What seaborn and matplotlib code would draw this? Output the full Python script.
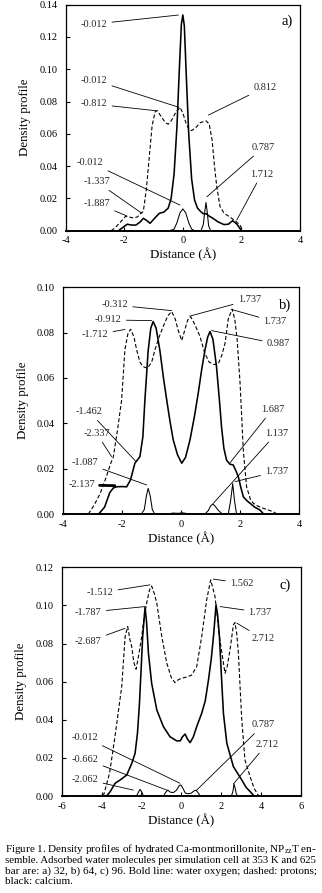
import matplotlib
matplotlib.use("Agg")
import matplotlib.pyplot as plt
import seaborn as sns
import pandas as pd

sns.set_theme(style="white")
plt.rcParams['font.family'] = ['Liberation Serif', 'DejaVu Serif']
plt.rcParams['mathtext.fontset'] = 'custom'
plt.rcParams['mathtext.rm'] = 'Liberation Serif'
plt.rcParams['mathtext.it'] = 'Liberation Serif'

# ---------------- data: panel a (32 molecules) ----------------
a_oxy_x = [-2.2, -2.05, -1.9, -1.75, -1.6, -1.45, -1.35, -1.25, -1.12, -0.95, -0.8, -0.65, -0.5, -0.4, -0.3,
           -0.2, -0.12, -0.05, 0.0, 0.05, 0.12, 0.2, 0.3, 0.4, 0.5, 0.6, 0.7, 0.8, 0.9, 1.0, 1.2, 1.4, 1.55,
           1.7, 1.85, 2.0]
a_oxy_y = [0.0, 0.002, 0.004, 0.0035, 0.0035, 0.0055, 0.0077, 0.0065, 0.0046, 0.008, 0.0108, 0.0115, 0.014,
           0.02, 0.035, 0.065, 0.1, 0.128, 0.1336, 0.127, 0.095, 0.06, 0.032, 0.019, 0.014, 0.012, 0.0105,
           0.0105, 0.009, 0.008, 0.0055, 0.0038, 0.004, 0.0062, 0.004, 0.0]
a_pro_x = [-2.45, -2.3, -2.1, -1.95, -1.85, -1.7, -1.55, -1.45, -1.35, -1.25, -1.15, -1.05, -0.95, -0.88,
           -0.75, -0.6, -0.5, -0.4, -0.25, -0.1, 0.0, 0.1, 0.2, 0.3, 0.45, 0.6, 0.8, 0.9, 1.0, 1.08, 1.16,
           1.27, 1.4, 1.6, 1.8, 1.95, 2.05]
a_pro_y = [0.0, 0.002, 0.006, 0.009, 0.0085, 0.008, 0.0085, 0.0105, 0.012, 0.025, 0.045, 0.065, 0.0735,
           0.0745, 0.071, 0.067, 0.066, 0.068, 0.073, 0.0764, 0.073, 0.067, 0.063, 0.062, 0.064, 0.067,
           0.068, 0.066, 0.056, 0.04, 0.027, 0.015, 0.011, 0.0085, 0.006, 0.0035, 0.0]
a_ca_x = [-0.45, -0.3, -0.2, -0.1, 0.0, 0.1, 0.2, 0.3, 0.4, 0.62, 0.7, 0.75, 0.79, 0.83, 0.88, 0.95]
a_ca_y = [0.0, 0.001, 0.005, 0.011, 0.0135, 0.011, 0.005, 0.001, 0.0, 0.0, 0.004, 0.012, 0.0175, 0.012,
          0.003, 0.0]

# ---------------- data: panel b (64 molecules) ----------------
b_oxy_x = [-2.8, -2.6, -2.42, -2.3, -2.19, -2.02, -1.85, -1.72, -1.57, -1.4, -1.3, -1.23, -1.12, -1.03,
           -0.95, -0.85, -0.72, -0.6, -0.49, -0.38, -0.27, -0.12, 0.02, 0.15, 0.3, 0.45, 0.58, 0.7, 0.81,
           0.9, 0.98, 1.08, 1.2, 1.3, 1.37, 1.45, 1.54, 1.65, 1.77, 1.86, 1.94, 2.02, 2.11, 2.22, 2.34,
           2.5, 2.67, 2.8]
b_oxy_y = [0.0, 0.003, 0.0095, 0.0115, 0.012, 0.0121, 0.012, 0.015, 0.0224, 0.0253, 0.034, 0.0503, 0.072,
           0.082, 0.0849, 0.082, 0.072, 0.06, 0.0503, 0.041, 0.0327, 0.026, 0.0224, 0.025, 0.0327, 0.043,
           0.0533, 0.064, 0.0724, 0.078, 0.0805, 0.077, 0.065, 0.05, 0.0385, 0.029, 0.0238, 0.022, 0.0216,
           0.019, 0.0165, 0.012, 0.0076, 0.006, 0.0047, 0.003, 0.0018, 0.0]
b_pro_x = [-3.15, -2.95, -2.75, -2.55, -2.4, -2.3, -2.15, -2.02, -1.91, -1.8, -1.71, -1.6, -1.51, -1.4,
           -1.29, -1.15, -1.0, -0.89, -0.75, -0.61, -0.45, -0.32, -0.2, -0.1, 0.02, 0.12, 0.22, 0.32, 0.45,
           0.64, 0.8, 0.95, 1.1, 1.25, 1.38, 1.49, 1.6, 1.73, 1.82, 1.9, 2.0, 2.11, 2.22, 2.35, 2.45, 2.6,
           2.79, 2.95, 3.13, 3.25]
b_pro_y = [0.0, 0.004, 0.009, 0.016, 0.022, 0.0253, 0.038, 0.0503, 0.0724, 0.08, 0.0815, 0.078, 0.0724,
           0.067, 0.065, 0.0643, 0.067, 0.0724, 0.078, 0.0827, 0.0875, 0.0893, 0.086, 0.081, 0.0765, 0.081,
           0.0855, 0.0871, 0.084, 0.0783, 0.071, 0.067, 0.066, 0.066, 0.07, 0.0754, 0.086, 0.0904, 0.086,
           0.077, 0.0577, 0.028, 0.012, 0.0065, 0.0047, 0.0035, 0.0025, 0.0018, 0.001, 0.0]
b_ca_x = [-1.35, -1.25, -1.18, -1.12, -1.05, -0.98, -0.9, -0.4, -0.3, -0.1, 0.05, 0.2, 0.4, 0.81, 0.92,
          1.0, 1.07, 1.15, 1.25, 1.35, 1.43, 1.6, 1.68, 1.75, 1.81, 1.88]
b_ca_y = [0.0, 0.002, 0.008, 0.0113, 0.008, 0.002, 0.0, 0.0, 0.0004, 0.0003, 0.0005, 0.0002, 0.0, 0.0,
          0.0015, 0.0035, 0.0044, 0.0035, 0.0018, 0.0005, 0.0, 0.0, 0.006, 0.0134, 0.006, 0.0]

# ---------------- data: panel c (96 molecules) ----------------
c_oxy_x = [-3.75, -3.58, -3.32, -3.07, -2.74, -2.49, -2.32, -2.2, -2.1, -1.94, -1.82, -1.75, -1.65, -1.49,
           -1.23, -0.9, -0.57, -0.23, -0.05, 0.05, 0.19, 0.3, 0.44, 0.6, 0.77, 1.02, 1.2, 1.36, 1.5, 1.61,
           1.74, 1.82, 1.91, 2.0, 2.11, 2.28, 2.61, 3.03, 3.25, 3.45, 3.65]
c_oxy_y = [0.0, 0.0021, 0.0067, 0.0084, 0.011, 0.017, 0.0224, 0.033, 0.0487, 0.0836, 0.099, 0.092, 0.0749,
           0.0592, 0.0451, 0.0364, 0.0311, 0.0289, 0.029, 0.031, 0.0325, 0.03, 0.028, 0.031, 0.0364, 0.0434,
           0.05, 0.0609, 0.072, 0.0836, 0.1003, 0.095, 0.0836, 0.065, 0.0434, 0.0277, 0.0154, 0.0084,
           0.0045, 0.0023, 0.0]
c_pro_x = [-3.91, -3.6, -3.33, -3.15, -2.99, -2.82, -2.69, -2.58, -2.49, -2.38, -2.27, -2.12, -1.99, -1.85,
           -1.74, -1.6, -1.49, -1.35, -1.23, -0.98, -0.73, -0.5, -0.32, -0.15, 0.02, 0.3, 0.52, 0.77, 1.02,
           1.27, 1.47, 1.69, 1.91, 2.11, 2.19, 2.3, 2.44, 2.61, 2.69, 2.78, 2.86, 3.03, 3.19, 3.45, 3.65,
           3.85, 3.95]
c_pro_y = [0.0, 0.012, 0.031, 0.045, 0.0574, 0.0836, 0.0889, 0.082, 0.0784, 0.07, 0.0665, 0.075, 0.0836,
           0.095, 0.1011, 0.108, 0.1102, 0.106, 0.1011, 0.0836, 0.0697, 0.062, 0.0595, 0.061, 0.0618, 0.0625,
           0.0635, 0.0679, 0.0836, 0.1029, 0.1134, 0.1046, 0.0836, 0.0697, 0.0644, 0.068, 0.0766, 0.0898,
           0.091, 0.085, 0.0749, 0.0399, 0.0189, 0.0101, 0.004, 0.0005, 0.0]
c_ca_x = [-2.25, -2.15, -2.07, -1.98, -1.9, -0.9, -0.78, -0.68, -0.55, -0.4, -0.25, -0.1, -0.02, 0.08, 0.2,
          0.35, 0.5, 0.65, 0.75, 0.85, 0.95, 2.5, 2.58, 2.64, 2.7, 2.76, 2.82]
c_ca_y = [0.0, 0.002, 0.0035, 0.002, 0.0, 0.0, 0.002, 0.0031, 0.002, 0.0018, 0.003, 0.0055, 0.0058, 0.004,
          0.0015, 0.0012, 0.0015, 0.0028, 0.003, 0.0015, 0.0, 0.0, 0.002, 0.0063, 0.004, 0.001, 0.0]

# ---------------- peak labels: (text, target x, target y, text x, text y) ----------------
a_labels = [("-0.012", -0.15, 0.1336, -3.03, 0.128),
            ("-0.012", -0.13, 0.0764, -3.03, 0.0933),
            ("-0.812", -0.91, 0.0743, -3.03, 0.0785),
            ("0.812", 0.87, 0.0716, 2.8, 0.0888),
            ("0.787", 0.82, 0.021, 2.75, 0.0516),
            ("-0.012", -0.1, 0.0159, -3.16, 0.0423),
            ("-1.337", -1.4, 0.0108, -2.94, 0.0303),
            ("-1.887", -1.91, 0.0091, -2.94, 0.017),
            ("1.712", 1.84, 0.0066, 2.69, 0.0351)]
b_labels = [("-0.312", -0.32, 0.0897, -2.25, 0.0922),
            ("1.737", 0.3, 0.0873, 2.31, 0.0944),
            ("-0.912", -1.0, 0.0853, -2.47, 0.0856),
            ("1.737", 1.77, 0.09, 3.19, 0.0848),
            ("-1.712", -1.91, 0.0814, -2.92, 0.079),
            ("0.987", 1.03, 0.0809, 3.3, 0.075),
            ("-1.462", -1.53, 0.0231, -3.12, 0.0451),
            ("-2.337", -2.36, 0.0253, -2.87, 0.0356),
            ("1.687", 1.66, 0.0226, 3.1, 0.0462),
            ("1.137", 1.09, 0.0047, 3.24, 0.0356),
            ("-1.087", -1.17, 0.0128, -3.26, 0.0226),
            ("1.737", 1.83, 0.0143, 3.24, 0.0187),
            ("-2.137", -2.25, 0.0125, -3.38, 0.0128)]
c_labels = [("-1.512", -1.57, 0.1108, -4.08, 0.1067),
            ("1.562", 1.6, 0.1138, 3.03, 0.1117),
            ("-1.787", -1.82, 0.0994, -4.66, 0.0964),
            ("1.737", 1.94, 0.0994, 3.95, 0.0964),
            ("-2.687", -2.82, 0.088, -4.66, 0.081),
            ("2.712", 2.78, 0.0907, 4.11, 0.0824),
            ("-0.012", -0.07, 0.0067, -4.83, 0.0308),
            ("0.787", 0.77, 0.0031, 4.11, 0.0373),
            ("2.712", 2.61, 0.0063, 4.28, 0.0271),
            ("-0.662", -0.73, 0.0031, -4.83, 0.0194),
            ("-2.062", -2.41, 0.0031, -4.83, 0.0089)]

panel_letters = [("a)", 3.55, 0.130), ("b)", 3.52, 0.092), ("c)", 5.2, 0.1108)]
x_limits = [(-4, 4), (-4, 4), (-6, 6)]
y_limits = [(0, 0.14), (0, 0.10), (0, 0.12)]
y_ticks = [[0.00, 0.02, 0.04, 0.06, 0.08, 0.10, 0.12, 0.14],
           [0.00, 0.02, 0.04, 0.06, 0.08, 0.10],
           [0.00, 0.02, 0.04, 0.06, 0.08, 0.10, 0.12]]
x_ticks = [[-4, -2, 0, 2, 4], [-4, -2, 0, 2, 4], [-6, -4, -2, 0, 2, 4, 6]]

caption_lines = [r"Figure 1. Density profiles of hydrated Ca-montmorillonite, NP$_{\mathrm{zz}}$T en-",
                 "semble. Adsorbed water molecules per simulation cell at 353 K and 625",
                 "bar are: a) 32, b) 64, c) 96. Bold line: water oxygen; dashed: protons;",
                 "black: calcium."]

W, H = 322, 893
fig = plt.figure(figsize=(W / 100, H / 100), dpi=100)
fig.patch.set_facecolor("white")

boxes = [(65.7, 4.7, 300.0, 230.7), (63.3, 287.3, 299.0, 514.0), (61.7, 567.3, 301.0, 796.0)]
panels = [
    ((a_oxy_x, a_oxy_y), (a_pro_x, a_pro_y), (a_ca_x, a_ca_y), a_labels),
    ((b_oxy_x, b_oxy_y), (b_pro_x, b_pro_y), (b_ca_x, b_ca_y), b_labels),
    ((c_oxy_x, c_oxy_y), (c_pro_x, c_pro_y), (c_ca_x, c_ca_y), c_labels),
]

for i, ((ox, oy), (px, py), (cx, cy), labels) in enumerate(panels):
    l, t, r, b = boxes[i]
    ax = fig.add_axes([l / W, 1 - b / H, (r - l) / W, (b - t) / H])
    ax.set_facecolor("white")
    df_o = pd.DataFrame({"x": ox, "y": oy})
    df_p = pd.DataFrame({"x": px, "y": py})
    df_c = pd.DataFrame({"x": cx, "y": cy})
    sns.lineplot(data=df_p, x="x", y="y", ax=ax, color="black", lw=0.8, sort=False,
                 estimator=None, linestyle=(0, (3.5, 2.0)))
    sns.lineplot(data=df_o, x="x", y="y", ax=ax, color="black", lw=1.15, sort=False, estimator=None)
    sns.lineplot(data=df_c, x="x", y="y", ax=ax, color="black", lw=0.75, sort=False, estimator=None)
    for (txt, tx, ty, lx, ly) in labels:
        thick = (txt == "-2.137")
        ax.annotate(txt, xy=(tx, ty), xytext=(lx, ly), fontsize=7.5, ha="center", va="center",
                    arrowprops=dict(arrowstyle="-", color="black", lw=2.0 if thick else 0.6,
                                    shrinkA=1, shrinkB=0))
    ax.set_xlim(*x_limits[i])
    ax.set_ylim(*y_limits[i])
    ax.set_xticks(x_ticks[i])
    ax.set_yticks(y_ticks[i])
    ax.set_xticklabels([str(v) for v in x_ticks[i]])
    ax.set_yticklabels([f"{v:.2f}" for v in y_ticks[i]])
    ax.tick_params(axis="both", direction="in", length=3, width=0.8, labelsize=7.5, colors="black",
                   bottom=True, left=True)
    ax.tick_params(axis="x", pad=4)
    ax.tick_params(axis="y", pad=6)
    for s in ax.spines.values():
        s.set_color("black")
        s.set_linewidth(0.9)
    ax.spines["bottom"].set_linewidth(1.4)
    ax.set_xlabel("Distance (Å)", fontsize=9.3, labelpad=2, color="black")
    ax.set_ylabel("Density profile", fontsize=9.3, labelpad=6, color="black")
    ax.grid(False)
    letter, lx, ly = panel_letters[i]
    ax.text(lx, ly, letter, fontsize=10.5, ha="center", va="center", color="black")

# caption: one text per line, font size fitted so full lines span the column width
renderer = fig.canvas.get_renderer()
left_px, right_px = 5.0, 316.0
base_size = 8.0
base0 = 851.8
for k, line in enumerate(caption_lines):
    ypos = 1 - (base0 + k * 10.8) / H
    t = fig.text(left_px / W, ypos, line, fontsize=base_size, ha="left", va="baseline", color="black")
    if k < len(caption_lines) - 1:
        wdt = t.get_window_extent(renderer=renderer).width
        t.set_fontsize(min(8.6, max(7.2, base_size * (right_px - left_px) / wdt)))

fig.savefig("out.png", dpi=100, facecolor="white")
